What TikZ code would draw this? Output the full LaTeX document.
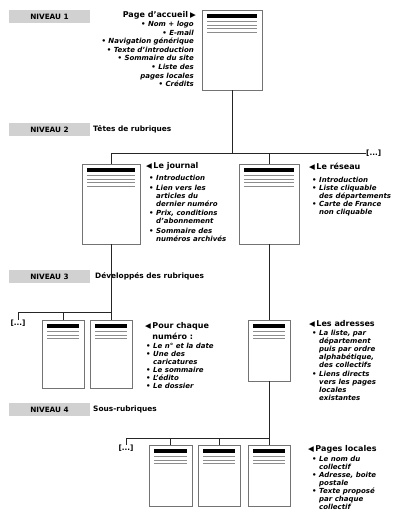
\documentclass[tikz,border=0pt]{standalone}
\usepackage{fontspec}
\setmainfont{DejaVu Sans}
\newfontfamily\dv{DejaVu Sans}
\usetikzlibrary{fit,calc}
\newcommand\ltri{{\dv\fontsize{7.5}{8}\selectfont ◀}}
\newcommand\ttl[1]{\ltri\hspace{1.5pt}{\fontsize{8}{10}\selectfont\bfseries #1}}
\newenvironment{blist}{\fontsize{7}{8}\selectfont\bfseries\itshape\begin{tabular}{@{}p{7pt}@{}l@{}}}{\end{tabular}}
\newcommand\docbox[6]{%
  \node[pg, fit={(#2,#3) (#4,#5)}] (#1) {};
  \fill[black] ({#2+5},{#3+3.5}) rectangle ({#4-5},{#3+7.5});
  \foreach \k in {1,...,#6} \draw[gline] ({#2+5},{#3+8+3.5*\k}) -- ({#4-5},{#3+8+3.5*\k});
}
\begin{document}
\begin{tikzpicture}[x=1pt,y=-1pt,
  pg/.style={draw=black!55, line width=0.6pt, fill=white, inner sep=0pt},
  gline/.style={draw=black!45, line width=0.6pt},
  conn/.style={draw=black!85, line width=0.8pt},
  lvl/.style={fill=black!18, minimum width=81pt, minimum height=13pt, inner sep=0pt, font=\bfseries\fontsize{7.3}{9}\selectfont},
  lab/.style={anchor=west, inner sep=0pt, font=\bfseries\fontsize{7.4}{9}\selectfont},
  dots/.style={inner sep=0pt, font=\bfseries\fontsize{7.3}{9}\selectfont},
  ttlnode/.style={anchor=west, inner sep=0pt, align=left},
  desc/.style={anchor=north west, inner sep=0pt}]
\fill[white] (0,0) rectangle (401,528);
\useasboundingbox (0,0) rectangle (401,528);

% level bars
\node[lvl] (n1) at (49.5,16.5) {NIVEAU 1};
\node[lvl] (n2) at (49.5,129.5) {NIVEAU 2};
\node[lvl] (n3) at (49.5,276.5) {NIVEAU 3};
\node[lvl] (n4) at (49.5,409.5) {NIVEAU 4};
\node[lab] (t2) at (93,129.5) {Têtes de rubriques};
\node[lab] (t3) at (95,276.5) {Développés des rubriques};
\node[lab] (t4) at (93,409.5) {Sous-rubriques};

% boxes
\docbox{home}{202}{10}{262}{90}{4}
\docbox{journal}{82}{164}{140}{244}{4}
\docbox{reseau}{239}{164}{299}{244}{4}
\docbox{num1}{42}{320}{84}{388}{3}
\docbox{num2}{90}{320}{132}{388}{3}
\docbox{adr}{248}{320}{290}{381}{3}
\docbox{loc1}{149}{445}{192}{506}{3}
\docbox{loc2}{198}{445}{240}{506}{3}
\docbox{loc3}{248}{445}{290}{506}{3}

% connectors level 2
\coordinate (h2l) at (111,153);
\coordinate (h2r) at (365,153);
\node[dots, anchor=west] (more2) at (366,153) {[...]};
\draw[conn] (home.south) -- (home.south |- h2l);
\draw[conn] (h2l) -- (more2.west);
\draw[conn] (h2l) -- (journal.north);
\draw[conn] (reseau.north) -- (reseau.north |- h2l);

% level 3
\coordinate (h3l) at (18,312);
\coordinate (h3r) at (111,312);
\node[dots] (more3) at (18,323) {[...]};
\draw[conn] (journal.south) -- (num2.north);
\draw[conn] (more3.north) -- (h3l) -- (h3r);
\draw[conn] (num1.north) -- (num1.north |- h3l);
\draw[conn] (reseau.south) -- (adr.north);

% level 4
\coordinate (h4l) at (126,438);
\coordinate (h4r) at (269,438);
\node[dots] (more4) at (126,448) {[...]};
\draw[conn] (adr.south) -- (loc3.north);
\draw[conn] (more4.north) -- (h4l) -- (h4r);
\draw[conn] (loc1.north) -- (loc1.north |- h4l);
\draw[conn] (loc2.north) -- (loc2.north |- h4l);

% texts
\node[anchor=east, inner sep=0pt] (hometitle) at (196,15) {{\fontsize{8}{10}\selectfont\bfseries Page d'accueil}\hspace{2pt}{\dv\fontsize{7.5}{8}\selectfont ▶}};
\node[anchor=north east, inner sep=0pt] (homelist) at (194,20.5) {\fontsize{7}{8.57}\selectfont\bfseries\itshape
  \begin{tabular}{@{}r@{}}
  \textbullet\ Nom + logo\\
  \textbullet\ E-mail\\
  \textbullet\ Navigation générique\\
  \textbullet\ Texte d'introduction\\
  \textbullet\ Sommaire du site\\
  \textbullet\ Liste des\\
  pages locales\\
  \textbullet\ Crédits
  \end{tabular}};

\node[ttlnode] (jtitle) at (146,166.5) {\ttl{Le journal}};
\node[desc] (jlist) at (149,175) {\begin{blist}
  \textbullet & Introduction\\[1.5pt]
  \textbullet & Lien vers les\\
  & articles du\\
  & dernier numéro\\[1.5pt]
  \textbullet & Prix, conditions\\
  & d'abonnement\\[1.5pt]
  \textbullet & Sommaire des\\
  & numéros archivés
  \end{blist}};

\node[ttlnode] (rtitle) at (309,167) {\ttl{Le réseau}};
\node[desc] (rlist) at (312,176.5) {\begin{blist}
  \textbullet & Introduction\\
  \textbullet & Liste cliquable\\
  & des départements\\
  \textbullet & Carte de France\\
  & non cliquable
  \end{blist}};

\node[desc] (ntitle) at (145,320) {\begin{tabular}{@{}l@{}}\ttl{Pour chaque}\\[-1pt]
  \phantom{\ltri\hspace{1.5pt}}{\fontsize{8}{10}\selectfont\bfseries numéro :}\end{tabular}};
\node[desc] (nlist) at (146,343) {\begin{blist}
  \textbullet & Le n° et la date\\
  \textbullet & Une des\\
  & caricatures\\
  \textbullet & Le sommaire\\
  \textbullet & L'édito\\
  \textbullet & Le dossier
  \end{blist}};

\node[ttlnode] (atitle) at (309,324) {\ttl{Les adresses}};
\node[desc] (alist) at (312,330) {\begin{blist}
  \textbullet & La liste, par\\
  & département\\
  & puis par ordre\\
  & alphabétique,\\
  & des collectifs\\[1pt]
  \textbullet & Liens directs\\
  & vers les pages\\
  & locales\\
  & existantes
  \end{blist}};

\node[ttlnode] (ltitle) at (308,449) {\ttl{Pages locales}};
\node[desc] (llist) at (312,456) {\begin{blist}
  \textbullet & Le nom du\\
  & collectif\\
  \textbullet & Adresse, boite\\
  & postale\\
  \textbullet & Texte proposé\\
  & par chaque\\
  & collectif
  \end{blist}};
\end{tikzpicture}
\end{document}
